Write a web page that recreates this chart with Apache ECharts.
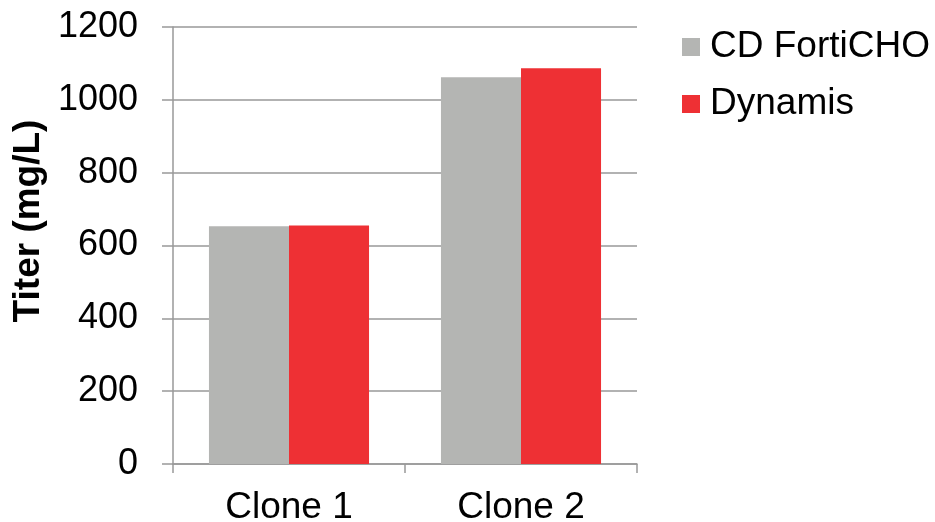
<!DOCTYPE html>
<html>
<head>
<meta charset="utf-8">
<script src="https://cdn.jsdelivr.net/npm/echarts@6/dist/echarts.min.js"></script>
<style>html,body{margin:0;padding:0;background:#fff}#c{width:935px;height:522px}</style>
</head>
<body>
<div id="c"></div>
<script>
const categories = ["Clone 1", "Clone 2"];
const seriesNames = ["CD FortiCHO", "Dynamis"];
const fortiCHO = [653, 1062];
const dynamis = [655, 1087];
const yTicks = { min: 0, max: 1200, interval: 200 };
const axisName = "Titer (mg/L)";

const FONT = "'Liberation Sans', Arial, sans-serif";
const chart = echarts.init(document.getElementById('c'), null, { renderer: 'canvas' });
chart.setOption({
  animation: false,
  backgroundColor: '#fff',
  grid: { left: 173, right: 298, top: 27, bottom: 58, containLabel: false, outerBoundsMode: 'none' },
  legend: {
    orient: 'vertical', left: 677, top: 22,
    itemWidth: 18, itemHeight: 18, itemGap: 17,
    icon: 'rect',
    textStyle: { fontFamily: FONT, fontSize: 37, color: '#000', lineHeight: 40, padding: [0,0,0,5] },
    data: seriesNames
  },
  graphic: [{
    type: 'text',
    x: 29, y: 221,
    rotation: Math.PI / 2,
    style: { text: axisName, font: 'bold 37px ' + FONT, fill: '#000', textAlign: 'center', textVerticalAlign: 'middle' }
  }],
  xAxis: {
    type: 'category', data: categories,
    axisLine: { lineStyle: { color: '#999', width: 1.5 } },
    axisTick: { show: true, length: 9, lineStyle: { color: '#999', width: 1.5 } },
    axisLabel: { fontFamily: FONT, fontSize: 37, color: '#000', margin: 25 },
    splitLine: { show: false }
  },
  yAxis: {
    type: 'value', min: yTicks.min, max: yTicks.max, interval: yTicks.interval,
    axisLine: { show: true, lineStyle: { color: '#999', width: 1.5 } },
    axisTick: { show: true, inside: false, length: 11, lineStyle: { color: '#999', width: 1.5 } },
    axisLabel: { fontFamily: FONT, fontSize: 36, color: '#000', margin: 35, formatter: v => String(v) },
    splitLine: { show: true, lineStyle: { color: '#999', width: 1.5 } }
  },
  series: [
    { name: seriesNames[0], type: 'bar', data: fortiCHO, itemStyle: { color: '#b4b5b3' }, barGap: '0%', barCategoryGap: '31%' },
    { name: seriesNames[1], type: 'bar', data: dynamis, itemStyle: { color: '#ee3034' }, barGap: '0%', barCategoryGap: '31%' }
  ]
});
</script>
</body>
</html>
